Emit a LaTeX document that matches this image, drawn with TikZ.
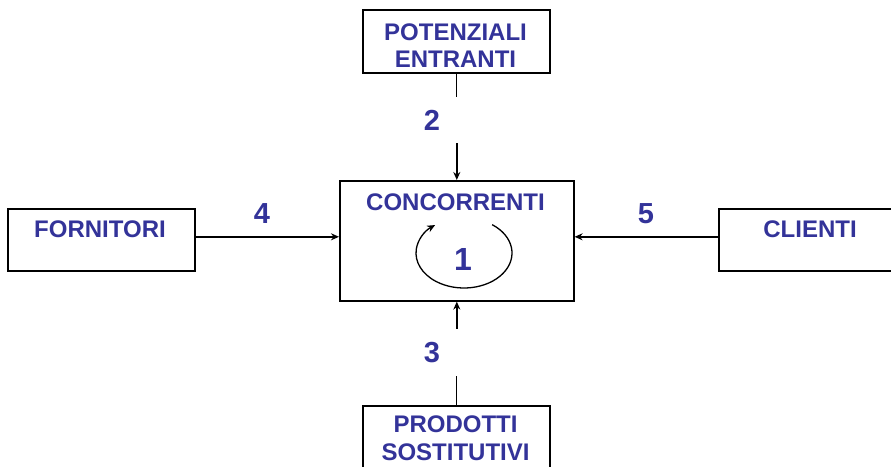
\documentclass[tikz,border=0pt]{standalone}
\usepackage{fontspec}
\setmainfont{Liberation Sans}
\usetikzlibrary{arrows.meta}
\definecolor{txtblue}{RGB}{51,51,153}
\begin{document}
\begin{tikzpicture}[x=1pt,y=-1pt,
  boxnode/.style={draw=black,line width=1.6pt,inner sep=0pt,anchor=north west},
  lbl/.style={text=txtblue,font=\bfseries\fontsize{24}{27}\selectfont,inner sep=0pt,align=center},
  num/.style={text=txtblue,font=\bfseries\fontsize{29}{30}\selectfont,inner sep=0pt},
  conn/.style={draw=black,line width=1.4pt},
  arr/.style={conn,-{Stealth[length=8pt,width=7pt]}}]
\useasboundingbox (0,0) rectangle (891,466);
\clip (0,0) rectangle (891,466);
% boxes
\node[boxnode,minimum width=187pt,minimum height=63pt] (top) at (362,9) {};
\node[boxnode,minimum width=234pt,minimum height=120pt] (ctr) at (339,180) {};
\node[boxnode,minimum width=187pt,minimum height=62pt] (lft) at (7,208) {};
\node[boxnode,minimum width=200pt,minimum height=62pt] (rgt) at (718,208) {};
\node[boxnode,minimum width=187pt,minimum height=90pt] (bot) at (362,405) {};
% texts
\node[lbl,font=\bfseries\fontsize{24}{26.5}\selectfont] (ttop) at (455.5,45.5) {POTENZIALI\\ENTRANTI};
\node[lbl] (tctr) at (455.5,202) {CONCORRENTI};
\node[lbl] (tlft) at (100,229) {FORNITORI};
\node[lbl] (trgt) at (810,229) {CLIENTI};
\node[lbl,font=\bfseries\fontsize{24}{28}\selectfont] (tbot) at (455.5,438) {PRODOTTI\\SOSTITUTIVI};
% numbers
\node[num] (n2) at (432,120) {2};
\node[num] (n3) at (432,353) {3};
\node[num] (n4) at (262,214) {4};
\node[num] (n5) at (646,214) {5};
\node[num,font=\bfseries\fontsize{32}{34}\selectfont] (n1) at (463,259) {1};
% connectors
\draw[conn] (top.south) -- ++(0,23);
\draw[arr] ([yshift=37pt]ctr.north) -- (ctr.north);
\draw[conn] (bot.north) -- ++(0,-29);
\draw[arr] ([yshift=-27pt]ctr.south) -- (ctr.south);
\coordinate (la) at ([yshift=3pt]lft.east);
\draw[arr] (la) -- (la -| ctr.west);
\coordinate (ra) at ([yshift=3pt]rgt.west);
\draw[arr] (ra) -- (ra -| ctr.east);
% circular arrow
\coordinate (c1) at (464,253);
\draw[conn,line width=1.3pt,-{Stealth[length=8pt,width=7pt]}] ([shift={(-54:48 and 35)}]c1) arc[start angle=-54,end angle=233,x radius=48,y radius=35];
\end{tikzpicture}
\end{document}
